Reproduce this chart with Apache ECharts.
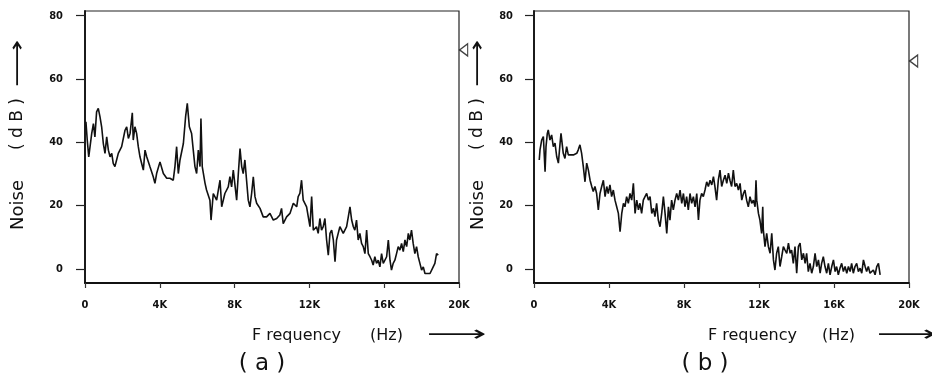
<!DOCTYPE html>
<html>
<head>
<meta charset="utf-8">
<script src="https://cdn.jsdelivr.net/npm/echarts@6/dist/echarts.min.js"></script>
<style>
  html, body { margin: 0; padding: 0; background: #fff; }
  #chart { width: 932px; height: 381px; }
</style>
</head>
<body>
<div id="chart"></div>
<script>
// frequency in kHz, noise level in dB
var freqA = [0.05,0.12,0.20,0.27,0.36,0.45,0.53,0.62,0.71,0.80,0.89,0.98,1.07,1.16,1.25,1.34,1.43,1.51,1.60,1.69,1.78,1.96,2.14,2.23,2.32,2.41,2.53,2.58,2.67,2.76,2.85,2.94,3.03,3.12,3.21,3.30,3.47,3.65,3.74,3.83,4.01,4.19,4.37,4.54,4.72,4.81,4.90,4.99,5.08,5.26,5.38,5.47,5.58,5.70,5.79,5.88,5.97,6.06,6.15,6.20,6.27,6.42,6.50,6.68,6.74,6.86,7.04,7.22,7.31,7.48,7.66,7.75,7.84,7.93,8.11,8.20,8.29,8.38,8.46,8.55,8.64,8.73,8.82,8.91,9.00,9.09,9.18,9.36,9.53,9.71,9.89,10.07,10.25,10.42,10.51,10.60,10.78,10.96,11.14,11.32,11.40,11.49,11.58,11.67,11.85,11.94,12.03,12.12,12.21,12.38,12.47,12.56,12.65,12.74,12.83,12.92,13.01,13.10,13.19,13.28,13.37,13.45,13.54,13.63,13.81,13.99,14.08,14.17,14.26,14.35,14.43,14.52,14.61,14.70,14.79,14.88,14.97,15.06,15.15,15.24,15.33,15.41,15.50,15.59,15.68,15.77,15.86,15.95,16.13,16.22,16.31,16.39,16.48,16.57,16.66,16.75,16.84,16.93,17.02,17.11,17.20,17.29,17.37,17.46,17.55,17.64,17.73,17.82,17.91,18.00,18.09,18.18,18.27,18.45,18.53,18.62,18.71,18.80,18.89];
var noiseA = [46.5,40.7,35.4,38.6,42.8,45.9,41.7,49.6,50.7,48.1,44.9,39.6,36.5,41.7,37.5,35.4,36.5,33.3,32.3,34.4,36.5,38.6,43.8,44.9,41.2,42.8,49.3,40.7,44.9,42.8,38.6,35.4,33.3,31.2,37.5,35.4,32.3,29.1,27.0,30.1,33.8,30.1,28.6,28.6,28.0,32.3,38.6,30.1,34.4,39.6,48.1,52.3,44.9,42.8,37.5,32.3,30.1,37.5,32.3,47.5,32.3,27.0,24.9,21.7,15.4,23.8,21.7,28.0,19.6,23.8,25.9,29.1,25.9,31.2,21.7,30.1,38.0,32.3,30.1,34.4,28.0,21.7,19.6,23.8,29.1,22.8,20.7,19.1,16.4,16.4,17.5,15.4,15.9,17.0,19.1,14.3,16.4,17.5,20.7,19.6,22.8,23.8,28.0,21.7,19.6,16.4,13.3,22.8,12.2,13.3,11.2,15.9,12.2,13.3,15.9,9.1,4.3,11.2,12.2,9.1,2.2,9.1,11.2,13.3,11.2,13.3,16.4,19.6,15.4,13.3,12.2,15.4,9.1,11.2,8.0,7.0,4.8,12.2,4.8,3.8,2.7,1.2,3.8,1.7,2.7,0.6,4.8,1.7,3.8,9.1,2.7,-0.4,1.7,2.7,4.8,7.0,5.9,8.0,5.4,9.1,7.0,11.2,9.1,12.2,8.0,4.8,7.0,3.8,1.7,-0.4,0.6,-1.5,-0.9,-1.5,-2.0,0.6,1.7,4.8,4.3];

var freqB = [0.28,0.32,0.41,0.50,0.59,0.64,0.71,0.76,0.85,0.94,1.03,1.12,1.21,1.30,1.39,1.44,1.56,1.65,1.74,1.83,1.92,2.10,2.28,2.36,2.45,2.54,2.63,2.72,2.81,2.90,2.99,3.08,3.16,3.25,3.34,3.43,3.52,3.61,3.70,3.79,3.88,3.96,4.05,4.14,4.23,4.32,4.41,4.50,4.59,4.68,4.77,4.85,4.94,5.03,5.12,5.21,5.30,5.39,5.48,5.57,5.65,5.74,5.83,5.92,6.01,6.10,6.19,6.28,6.37,6.45,6.54,6.63,6.72,6.81,6.90,6.99,7.08,7.17,7.25,7.34,7.43,7.52,7.61,7.70,7.79,7.88,7.97,8.05,8.14,8.23,8.32,8.41,8.50,8.59,8.68,8.77,8.85,8.94,9.03,9.12,9.21,9.30,9.39,9.48,9.57,9.65,9.74,9.83,9.92,10.01,10.10,10.19,10.28,10.37,10.45,10.54,10.63,10.72,10.81,10.90,10.99,11.08,11.17,11.25,11.34,11.43,11.52,11.61,11.70,11.79,11.84,11.88,11.97,12.05,12.14,12.20,12.23,12.32,12.41,12.50,12.59,12.68,12.77,12.85,12.94,13.03,13.12,13.21,13.30,13.39,13.48,13.57,13.66,13.74,13.83,13.92,14.01,14.10,14.19,14.28,14.37,14.46,14.54,14.63,14.72,14.81,14.90,14.99,15.08,15.17,15.26,15.34,15.43,15.52,15.61,15.70,15.79,15.88,15.97,16.06,16.14,16.23,16.32,16.41,16.50,16.59,16.68,16.77,16.86,16.94,17.03,17.12,17.21,17.30,17.39,17.48,17.57,17.66,17.74,17.83,17.92,18.10,18.19,18.28,18.37,18.46];
var noiseB = [34.4,37.6,40.7,41.8,30.7,38.6,42.8,43.9,40.7,42.3,38.6,39.7,35.5,33.4,39.7,42.8,36.5,34.9,38.6,36.0,36.5,36.0,36.5,37.6,39.2,36.5,32.3,27.5,33.4,31.2,28.0,26.0,24.4,26.0,23.8,18.6,23.8,26.0,28.0,22.8,26.0,23.8,26.5,22.8,24.9,21.7,19.6,17.5,11.7,17.5,20.7,19.6,22.8,20.7,23.8,21.7,27.0,17.5,21.7,18.6,20.7,17.5,21.7,22.8,23.8,21.7,22.8,17.5,19.1,16.5,20.7,15.4,13.3,17.5,22.8,17.5,11.2,19.6,15.4,21.7,18.6,21.7,23.8,21.7,24.9,20.7,23.8,19.6,22.8,18.6,23.8,20.7,22.8,19.6,23.8,15.4,21.7,23.8,22.8,24.9,27.5,26.0,28.0,26.5,29.1,26.0,21.7,28.0,31.2,26.0,28.0,29.6,27.0,30.2,28.0,26.0,31.2,26.0,27.0,24.9,27.0,21.7,23.8,24.9,21.7,19.6,22.8,20.7,21.7,19.6,28.0,21.7,17.5,15.4,11.2,19.6,12.3,7.0,11.2,7.0,4.9,11.2,2.8,-0.4,4.9,7.0,0.7,3.8,7.0,5.9,4.9,8.1,4.9,5.9,1.7,7.0,-1.4,7.0,8.1,2.8,4.9,1.7,4.9,-0.9,1.7,-1.4,0.7,4.9,0.7,2.8,-1.4,1.7,3.8,0.7,-1.4,1.7,-1.9,0.7,2.8,-0.9,0.7,-1.9,0.2,1.7,-0.9,0.7,-1.4,0.7,-0.9,1.7,-1.4,0.7,1.7,-0.9,0.2,-1.4,2.8,0.7,-0.9,0.7,-1.4,-0.4,-1.9,0.7,1.7,-1.9];

// level markers (◁) at the right edge of each panel
var markerFreq = [20.25, 20.25];
var markerLevel = [69.2, 65.7];

var freqTicks = [0, 4, 8, 12, 16, 20];
var dbTicks = [0, 20, 40, 60, 80];

var chart = echarts.init(document.getElementById('chart'));

var tickFont = '"DejaVu Sans Condensed", "DejaVu Sans", sans-serif';
var titleFont = '"DejaVu Sans", sans-serif';

function pairs(xs, ys) {
    return xs.map(function (x, i) { return [x, ys[i]]; });
}

function makeX(gridIndex) {
    return {
        type: 'value',
        gridIndex: gridIndex,
        min: freqTicks[0],
        max: freqTicks[freqTicks.length - 1],
        interval: 4,
        axisLine: { show: true, onZero: false, lineStyle: { color: '#111', width: 1.8 } },
        axisTick: { show: true, inside: false, length: 5, lineStyle: { color: '#333', width: 1.2 } },
        axisLabel: {
            margin: 17, color: '#111', fontSize: 11, fontWeight: 'bold', fontFamily: tickFont,
            formatter: function (v) { return v === 0 ? '0' : v + 'K'; }
        },
        splitLine: { show: false }
    };
}

function makeY(gridIndex, margin) {
    return {
        type: 'value',
        gridIndex: gridIndex,
        min: -4.5,
        max: 81.5,
        axisLine: { show: true, onZero: false, lineStyle: { color: '#111', width: 1.8 } },
        axisTick: { show: true, inside: false, length: 9, customValues: dbTicks, lineStyle: { color: '#222', width: 1.2 } },
        axisLabel: { margin: margin, color: '#111', fontSize: 11, fontWeight: 'bold', fontFamily: tickFont, customValues: dbTicks },
        splitLine: { show: false }
    };
}

function text(x, y, str, size, extra) {
    var t = {
        type: 'text',
        x: x,
        y: y,
        style: {
            text: str,
            font: size + 'px ' + titleFont,
            fill: '#111',
            textAlign: 'left',
            textVerticalAlign: 'middle',
            align: 'left',
            verticalAlign: 'middle'
        }
    };
    if (extra) {
        for (var k in extra) t[k] = extra[k];
        if (extra.center) {
            t.style.textAlign = 'center';
            t.style.align = 'center';
            delete t.center;
        }
    }
    return t;
}

var graphics = [
    // panel (a) y title, bottom to top
    text(18, 205, 'Noise', 18, { rotation: Math.PI / 2, center: true }),
    text(18, 124, '( d B )', 17, { rotation: Math.PI / 2, center: true }),
    text(18, 63, '⟶', 22, { rotation: Math.PI / 2, center: true, scaleX: 1.5 }),
    // panel (b) y title
    text(478, 205, 'Noise', 18, { rotation: Math.PI / 2, center: true }),
    text(478, 124, '( d B )', 17, { rotation: Math.PI / 2, center: true }),
    text(478, 63, '⟶', 22, { rotation: Math.PI / 2, center: true, scaleX: 1.5 }),
    // x titles
    text(252, 336, 'F requency', 16),
    text(370, 336, '(Hz)', 16),
    text(427, 335, '⟶', 22, { scaleX: 1.9 }),
    text(708, 336, 'F requency', 16),
    text(822, 336, '(Hz)', 16),
    text(877, 335, '⟶', 22, { scaleX: 1.9 }),
    // panel labels
    text(262, 364, '( a )', 23, { center: true }),
    text(705, 364, '( b )', 23, { center: true })
];

var option = {
    backgroundColor: '#fff',
    animation: false,
    grid: [
        { left: 85, top: 11, width: 374, height: 272, show: true, borderColor: '#222', borderWidth: 1.2, backgroundColor: 'transparent' },
        { left: 534, top: 11, width: 375, height: 272, show: true, borderColor: '#222', borderWidth: 1.2, backgroundColor: 'transparent' }
    ],
    xAxis: [makeX(0), makeX(1)],
    yAxis: [makeY(0, 22), makeY(1, 21)],
    series: [
        {
            type: 'line', xAxisIndex: 0, yAxisIndex: 0,
            data: pairs(freqA, noiseA),
            showSymbol: false,
            lineStyle: { color: '#111', width: 1.6 }
        },
        {
            type: 'line', xAxisIndex: 1, yAxisIndex: 1,
            data: pairs(freqB, noiseB),
            showSymbol: false,
            lineStyle: { color: '#111', width: 1.6 }
        },
        {
            type: 'scatter', xAxisIndex: 0, yAxisIndex: 0, clip: false,
            data: [[markerFreq[0], markerLevel[0]]],
            symbol: 'triangle', symbolRotate: 90, symbolSize: [12, 8],
            itemStyle: { color: '#fff', borderColor: '#111', borderWidth: 1.3 }
        },
        {
            type: 'scatter', xAxisIndex: 1, yAxisIndex: 1, clip: false,
            data: [[markerFreq[1], markerLevel[1]]],
            symbol: 'triangle', symbolRotate: 90, symbolSize: [12, 8],
            itemStyle: { color: '#fff', borderColor: '#111', borderWidth: 1.3 }
        }
    ],
    graphic: graphics
};

chart.setOption(option);
</script>
</body>
</html>
